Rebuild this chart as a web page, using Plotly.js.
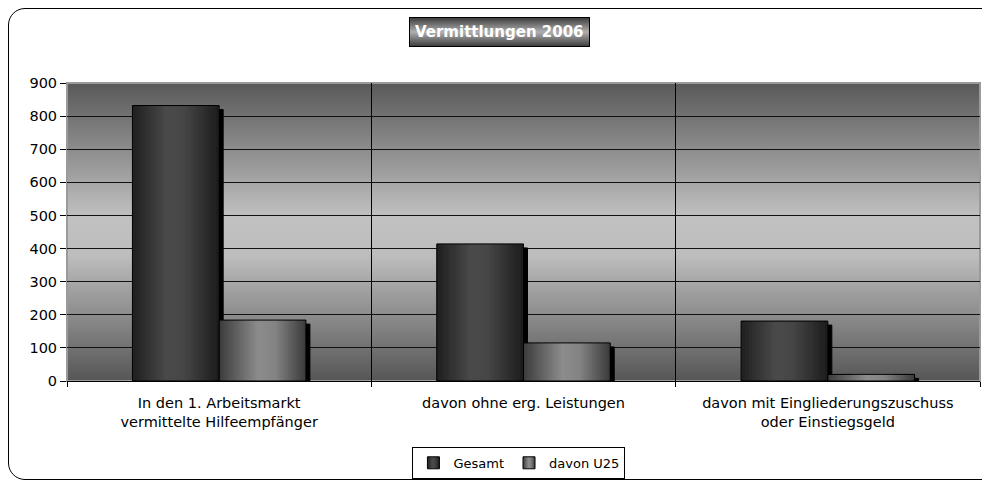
<!DOCTYPE html>
<html>
<head>
<meta charset="utf-8">
<script src="https://cdn.plot.ly/plotly-3.0.1.min.js"></script>
<style>
html, body { margin: 0; padding: 0; background: #fff; }
#wrap { position: relative; width: 982px; height: 481px; overflow: hidden; }
#chart { width: 982px; height: 481px; }
#frame { position: absolute; left: 8px; top: 8px; width: 1000px; height: 472px;
         border: 1.5px solid #000; border-radius: 17px; box-sizing: border-box; pointer-events: none; }
</style>
</head>
<body>
<div id="wrap"><div id="chart"></div><div id="frame"></div></div>
<script>
// values
var categories = [
    'In den 1. Arbeitsmarkt<br>vermittelte Hilfeempfänger',
    'davon ohne erg. Leistungen',
    'davon mit Eingliederungszuschuss<br>oder Einstiegsgeld'
];
var gesamt = [832, 414, 181];
var u25 = [184, 115, 20];
var seriesNames = ['Gesamt', 'davon U25'];
var chartTitle = 'Vermittlungen 2006';

var FONT = 'DejaVu Sans, Verdana, sans-serif';

// plot background: dark - light - dark vertical gradient
var bgSvg = '<svg xmlns="http://www.w3.org/2000/svg" width="10" height="300" preserveAspectRatio="none">' +
    '<defs><linearGradient id="g" x1="0" y1="0" x2="0" y2="1">' +
    '<stop offset="0" stop-color="#595959"/><stop offset="0.45" stop-color="#c1c1c1"/>' +
    '<stop offset="0.58" stop-color="#bdbdbd"/><stop offset="1" stop-color="#565656"/>' +
    '</linearGradient></defs><rect width="10" height="300" fill="url(#g)"/></svg>';

var trace1 = {
    x: categories,
    y: gesamt,
    name: seriesNames[0],
    type: 'bar',
    marker: {color: '#3a3a3a', line: {color: '#000', width: 1}},
    hoverinfo: 'none'
};
var trace2 = {
    x: categories,
    y: u25,
    name: seriesNames[1],
    type: 'bar',
    marker: {color: '#7a7a7a', line: {color: '#000', width: 1}},
    hoverinfo: 'none'
};

var layout = {
    width: 982,
    height: 481,
    margin: {l: 67, r: 2, t: 83, b: 100},
    paper_bgcolor: '#fff',
    plot_bgcolor: 'rgba(0,0,0,0)',
    font: {family: FONT, size: 14, color: '#000'},
    barmode: 'group',
    bargap: 0.43,
    bargroupgap: 0,
    showlegend: true,
    xaxis: {
        type: 'category',
        tickson: 'boundaries',
        ticks: 'outside', ticklen: 5, tickcolor: '#000',
        ticklabelstandoff: 9,
        showgrid: true, gridcolor: '#000', gridwidth: 1,
        showline: true, linecolor: '#000', linewidth: 1,
        tickfont: {family: FONT, size: 14.5},
        automargin: false
    },
    yaxis: {
        range: [0, 900], dtick: 100,
        ticks: 'outside', ticklen: 6, tickcolor: '#000',
        showgrid: true, gridcolor: '#111', gridwidth: 1,
        zeroline: false, showline: false,
        tickfont: {family: FONT, size: 14.5},
        automargin: false
    },
    legend: {
        orientation: 'h',
        xref: 'paper', x: 0.495, xanchor: 'center',
        yref: 'container', y: 0.071, yanchor: 'top',
        bordercolor: '#000', borderwidth: 1,
        font: {family: FONT, size: 13},
        itemwidth: 30,
        traceorder: 'normal'
    },
    annotations: [{
        text: '<b>' + chartTitle + '</b>',
        xref: 'paper', yref: 'paper',
        x: 0.474, y: 1.17, xanchor: 'center', yanchor: 'middle',
        showarrow: false,
        font: {family: FONT, size: 15, color: '#fff'},
        bgcolor: '#8a8a8a', bordercolor: '#000', borderwidth: 1, borderpad: 5
    }],
    images: [{
        source: 'data:image/svg+xml;base64,' + btoa(bgSvg),
        xref: 'paper', yref: 'paper',
        x: 0, y: 1, sizex: 1, sizey: 1,
        xanchor: 'left', yanchor: 'top',
        sizing: 'stretch', layer: 'below'
    }],
    shapes: [{
        type: 'rect', xref: 'paper', yref: 'paper',
        x0: 0, x1: 1, y0: 0, y1: 1,
        line: {color: '#9a9a9a', width: 2},
        layer: 'between'
    }]
};

function addSvgEffects(gd) {
    var ns = 'http://www.w3.org/2000/svg';
    var defs = gd.querySelector('svg.main-svg defs');

    function makeGrad(id, stops, vertical) {
        var g = document.createElementNS(ns, 'linearGradient');
        g.setAttribute('id', id);
        g.setAttribute('x1', '0'); g.setAttribute('y1', '0');
        g.setAttribute('x2', vertical ? '0' : '1'); g.setAttribute('y2', vertical ? '1' : '0');
        stops.forEach(function (s) {
            var st = document.createElementNS(ns, 'stop');
            st.setAttribute('offset', s[0]);
            st.setAttribute('stop-color', s[1]);
            g.appendChild(st);
        });
        defs.appendChild(g);
    }
    makeGrad('barGrad0', [[0, '#1f1f1f'], [0.4, '#4a4a4a'], [0.6, '#454545'], [1, '#1c1c1c']]);
    makeGrad('barGrad1', [[0, '#3c3c3c'], [0.45, '#8c8c8c'], [0.65, '#838383'], [1, '#3a3a3a']]);
    makeGrad('titleGrad', [[0, '#3a3a3a'], [0.5, '#b0b0b0'], [1, '#3a3a3a']], true);

    var f = document.createElementNS(ns, 'filter');
    f.setAttribute('id', 'barShadow');
    f.setAttribute('filterUnits', 'userSpaceOnUse');
    f.setAttribute('x', '-100'); f.setAttribute('y', '-100');
    f.setAttribute('width', '3000'); f.setAttribute('height', '3000');
    var ds = document.createElementNS(ns, 'feDropShadow');
    ds.setAttribute('dx', '4'); ds.setAttribute('dy', '4');
    ds.setAttribute('stdDeviation', '0');
    ds.setAttribute('flood-color', '#000'); ds.setAttribute('flood-opacity', '1');
    f.appendChild(ds);
    defs.appendChild(f);

    gd.querySelectorAll('g.trace.bars').forEach(function (t, i) {
        t.querySelectorAll('path').forEach(function (p) {
            p.style.fill = 'url(#barGrad' + i + ')';
            p.setAttribute('filter', 'url(#barShadow)');
        });
    });
    gd.querySelectorAll('.legend .traces').forEach(function (t, i) {
        t.querySelectorAll('.legendpoints path').forEach(function (p) {
            p.style.fill = 'url(#barGrad' + i + ')';
        });
    });
    var bg = gd.querySelector('.annotation rect.bg');
    if (bg) bg.style.fill = 'url(#titleGrad)';
}

Plotly.newPlot('chart', [trace1, trace2], layout, {staticPlot: true}).then(addSvgEffects);
</script>
</body>
</html>
